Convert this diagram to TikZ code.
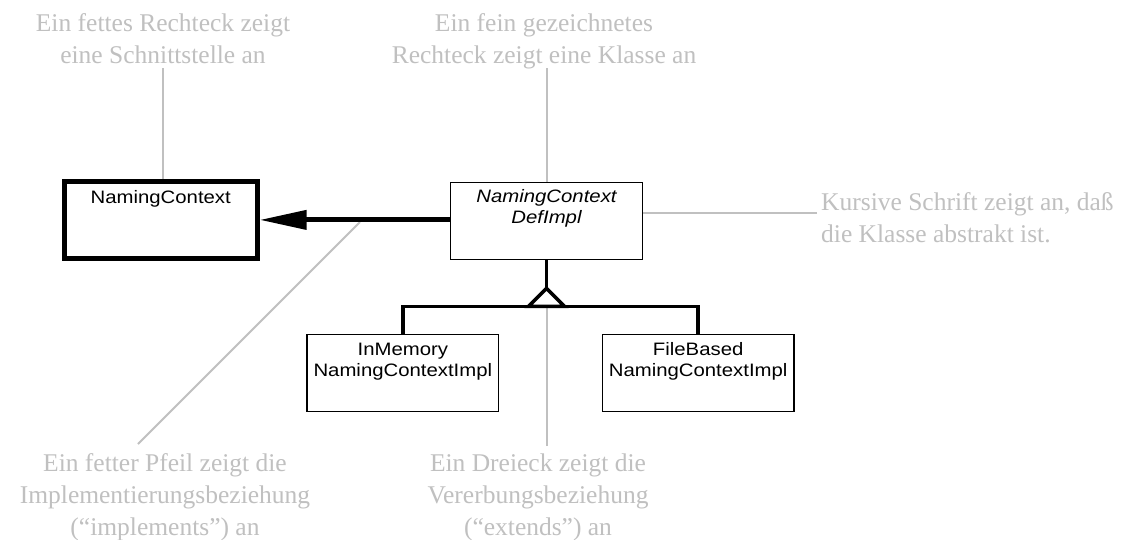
\documentclass[tikz,border=0pt]{standalone}
\usepackage{fontspec}
\setmainfont{Liberation Serif}
\newfontfamily\boxfont[FakeStretch=1.13]{Liberation Sans}
\usetikzlibrary{arrows.meta,calc}
\definecolor{notegray}{RGB}{192,192,192}
\begin{document}
\begin{tikzpicture}[x=1pt,y=-1pt,
  iface/.style={draw, line width=5pt, minimum width=192.5pt, minimum height=76.8pt, inner sep=0pt},
  cls/.style={draw, line width=1.3pt, minimum width=191.6pt, minimum height=76.6pt, inner sep=0pt},
  boxtext/.style={anchor=north, align=center, inner sep=0pt, font=\boxfont\fontsize{18}{20.5}\selectfont},
  note/.style={anchor=north, align=center, inner sep=0pt, text=notegray, font=\fontsize{25.5}{32}\selectfont},
  noteline/.style={draw=notegray, line width=2pt},
  conn/.style={line width=3.5pt},
]
\fill[white] (0,0) rectangle (1126,539);
\useasboundingbox (0,0) rectangle (1126,539);

% class boxes
\node[iface] (nc) at (160.75,219.9) {};
\node[cls] (di) at (546.5,221) {};
\node[cls] (im) at (402.85,373.1) {};
\node[cls] (fb) at (698.15,373.1) {};

% gray annotation lines (under the black drawing)
\coordinate (apex) at ($(di.south)+(0,28.5)$);
\path (apex) ++(-18,18) coordinate (bl) ++(36,0) coordinate (br);
\coordinate (n1) at (162.5,68);
\coordinate (n2) at (547,68);
\coordinate (n3) at (817,213);
\coordinate (n4a) at (360,222);
\coordinate (n4b) at (138,444);
\coordinate (n5) at (547,446);
\draw[noteline] (n1) -- (n1 |- nc.north);
\draw[noteline] (n2) -- (n2 |- di.north);
\draw[noteline] (n3) -- (n3 -| di.east);
\draw[noteline] (n4a) -- (n4b);
\draw[noteline] (n5) -- (n5 |- bl);

% box texts
\node[boxtext] (nct) at ([yshift=-9pt]nc.north) {\rule{0pt}{15pt}NamingContext};
\node[boxtext] (dit) at ([yshift=-5.7pt]di.north) {\itshape\rule{0pt}{15pt}NamingContext\\\itshape DefImpl};
\node[boxtext] (imt) at ([yshift=-6.5pt]im.north) {\rule{0pt}{15pt}InMemory\\NamingContextImpl};
\node[boxtext] (fbt) at ([yshift=-6.5pt]fb.north) {\rule{0pt}{15pt}FileBased\\NamingContextImpl};

% implements arrow
\draw[line width=5pt, -{Triangle[length=47pt,width=18.6pt]}] (di.west |- nc.east) -- (nc.east);

% inheritance
\draw[conn] (di.south) -- (apex);
\draw[conn, line join=miter] (apex) -- (bl) -- (br) -- cycle;
\draw[conn] (im.north) -- (im.north |- bl) -- (fb.north |- bl) -- (fb.north);

% annotations
\node[note] (a1) at (163,11) {\rule{0pt}{20pt}Ein fettes Rechteck zeigt\\eine Schnittstelle an};
\node[note] (a2) at (544,11) {\rule{0pt}{20pt}Ein fein gezeichnetes\\Rechteck zeigt eine Klasse an};
\node[note, anchor=north west, align=left] (a3) at (821,190) {\rule{0pt}{20pt}Kursive Schrift zeigt an, daß\\die Klasse abstrakt ist.};
\node[note] (a4) at (165,451) {\rule{0pt}{20pt}Ein fetter Pfeil zeigt die\\Implementierungsbeziehung\\(“implements”) an};
\node[note] (a5) at (538,451) {\rule{0pt}{20pt}Ein Dreieck zeigt die\\Vererbungsbeziehung\\(“extends”) an};
\end{tikzpicture}
\end{document}
